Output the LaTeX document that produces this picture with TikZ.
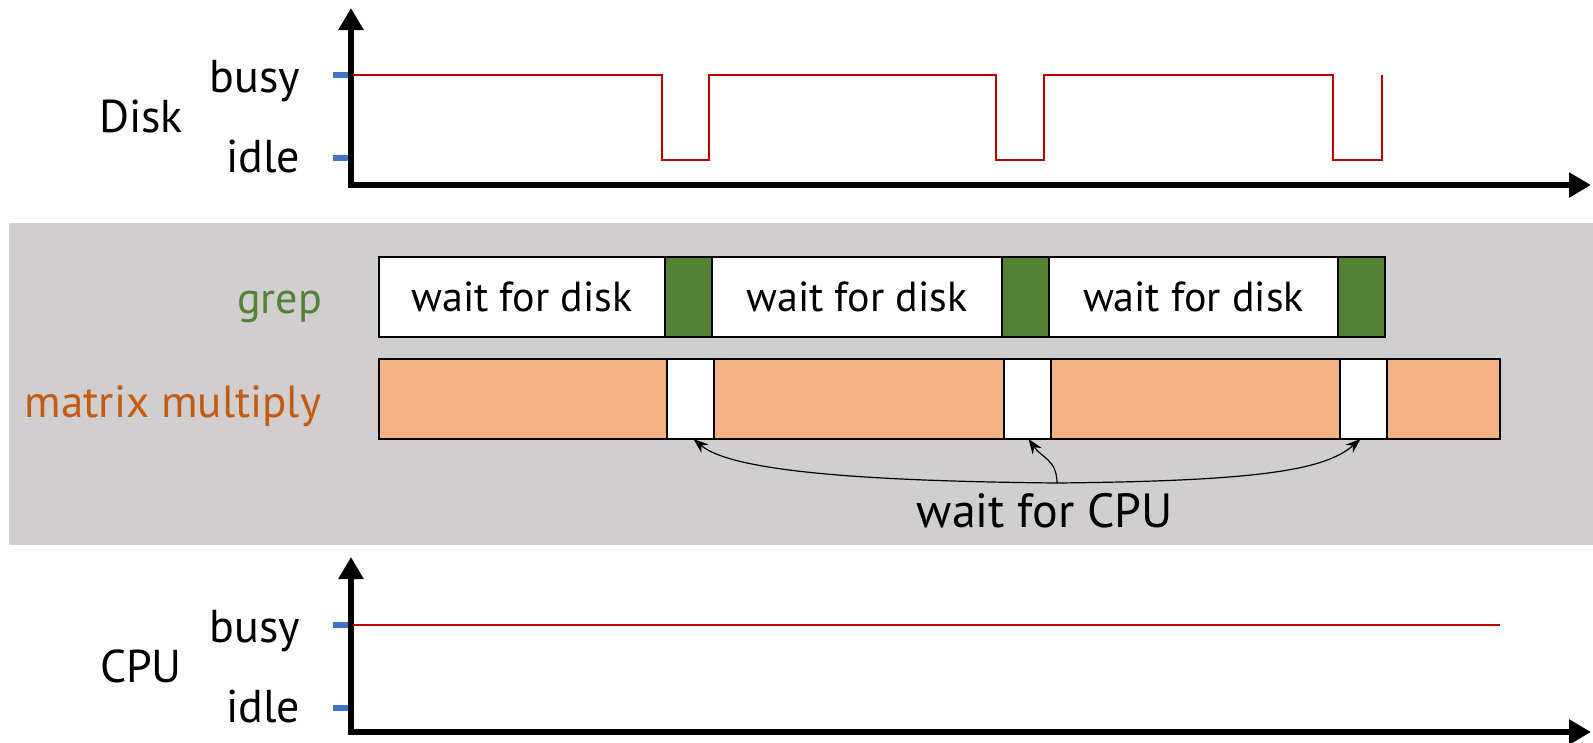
\documentclass[tikz,border=0pt]{standalone}
\usepackage{fontspec}
\setmainfont{PT Sans}
\usetikzlibrary{arrows.meta}
\definecolor{bandgray}{HTML}{D0CECE}
\definecolor{grepgreen}{HTML}{538135}
\definecolor{mmorange}{HTML}{C55A11}
\definecolor{mmfill}{HTML}{F4B183}
\definecolor{sigred}{HTML}{C00000}
\definecolor{tickblue}{HTML}{4472C4}
\newcommand{\fsz}[1]{\fontsize{#1}{#1}\selectfont}
\begin{document}
\begin{tikzpicture}[x=1pt,y=-1pt,
  lbl/.style={inner sep=0pt, outer sep=0pt, font=\fsz{46}},
  axis/.style={line width=6pt, line join=miter, {Triangle[length=22pt,width=24pt]}-{Triangle[length=22pt,width=24pt]}},
  tickmark/.style={tickblue, line width=6pt},
  sig/.style={sigred, line width=2.4pt},
  seg/.style={draw=black, line width=2pt, minimum height=80pt, inner sep=0pt, outer sep=0pt, anchor=north west, font=\fsz{42}},
  waitseg/.style={seg, fill=white},
  runseg/.style={seg, fill=grepgreen},
  mmseg/.style={seg, fill=mmfill},
  idleseg/.style={seg, fill=white},
  cpuarrow/.style={line width=1.2pt, -{Stealth[length=15pt,width=11pt]}}
]
\useasboundingbox (0,0) rectangle (1593,742);
% gray band
\fill[bandgray] (9,223) rectangle (1593,545);

% ---------- Disk chart ----------
\coordinate (dtop) at (351,8);
\coordinate (dorig) at (351,185);
\coordinate (dright) at (1591,185);
\draw[axis] (dtop) -- (dorig) -- (dright);
\coordinate (dbt) at (333,75);
\coordinate (dit) at (333,158);
\draw[tickmark] (dbt) -- ++(15,0);
\draw[tickmark] (dit) -- ++(15,0);
\node[lbl, anchor=base east] (dbusy) at (300,92) {busy};
\node[lbl, anchor=base east] (didle) at (300,172) {idle};
\node[lbl, anchor=base] (disk) at (141,132) {Disk};
\draw[sig] (353,75) -| (662,160) -| (709,75) -| (996,160) -| (1044,75) -| (1333,160) -| (1382,75);

% ---------- grep row ----------
\node[lbl, anchor=base east, text=grepgreen, font=\fsz{44}] (grep) at (322,313) {grep};
\node[waitseg, minimum width=286pt] (g1) at (379,257) {wait for disk};
\node[runseg, minimum width=47pt] (g2) at (g1.north east) {};
\node[waitseg, minimum width=290pt] (g3) at (g2.north east) {wait for disk};
\node[runseg, minimum width=47pt] (g4) at (g3.north east) {};
\node[waitseg, minimum width=289pt] (g5) at (g4.north east) {wait for disk};
\node[runseg, minimum width=47pt] (g6) at (g5.north east) {};

% ---------- matrix multiply row ----------
\node[lbl, anchor=base east, text=mmorange, font=\fsz{45}] (mm) at (321,417) {matrix multiply};
\node[mmseg, minimum width=288pt] (m1) at (379,359) {};
\node[idleseg, minimum width=47pt] (m2) at (m1.north east) {};
\node[mmseg, minimum width=290pt] (m3) at (m2.north east) {};
\node[idleseg, minimum width=47pt] (m4) at (m3.north east) {};
\node[mmseg, minimum width=289pt] (m5) at (m4.north east) {};
\node[idleseg, minimum width=47pt] (m6) at (m5.north east) {};
\node[mmseg, minimum width=113pt] (m7) at (m6.north east) {};

% ---------- wait for CPU ----------
\node[lbl, anchor=base, font=\fsz{48}] (wcpu) at (1045,527) {wait for CPU};
\coordinate (root) at (1057,483);
\draw[cpuarrow] (root) .. controls (850,481) and (730,470) .. ([xshift=3pt]m2.south);
\draw[cpuarrow] (root) .. controls (1057,460) and (1042,458) .. ([xshift=1pt]m4.south);
\draw[cpuarrow] (root) .. controls (1260,481) and (1325,470) .. ([xshift=-3pt]m6.south);

% ---------- CPU chart ----------
\coordinate (ctop) at (351,557);
\coordinate (corig) at (351,732);
\coordinate (cright) at (1591,732);
\draw[axis] (ctop) -- (corig) -- (cright);
\coordinate (cbt) at (333,625);
\coordinate (cit) at (333,708);
\draw[tickmark] (cbt) -- ++(15,0);
\draw[tickmark] (cit) -- ++(15,0);
\node[lbl, anchor=base east] (cbusy) at (300,642) {busy};
\node[lbl, anchor=base east] (cidle) at (300,722) {idle};
\node[lbl, anchor=base] (cpu) at (141,682) {CPU};
\draw[sig] (353,625) -- (1500,625);
\end{tikzpicture}
\end{document}
